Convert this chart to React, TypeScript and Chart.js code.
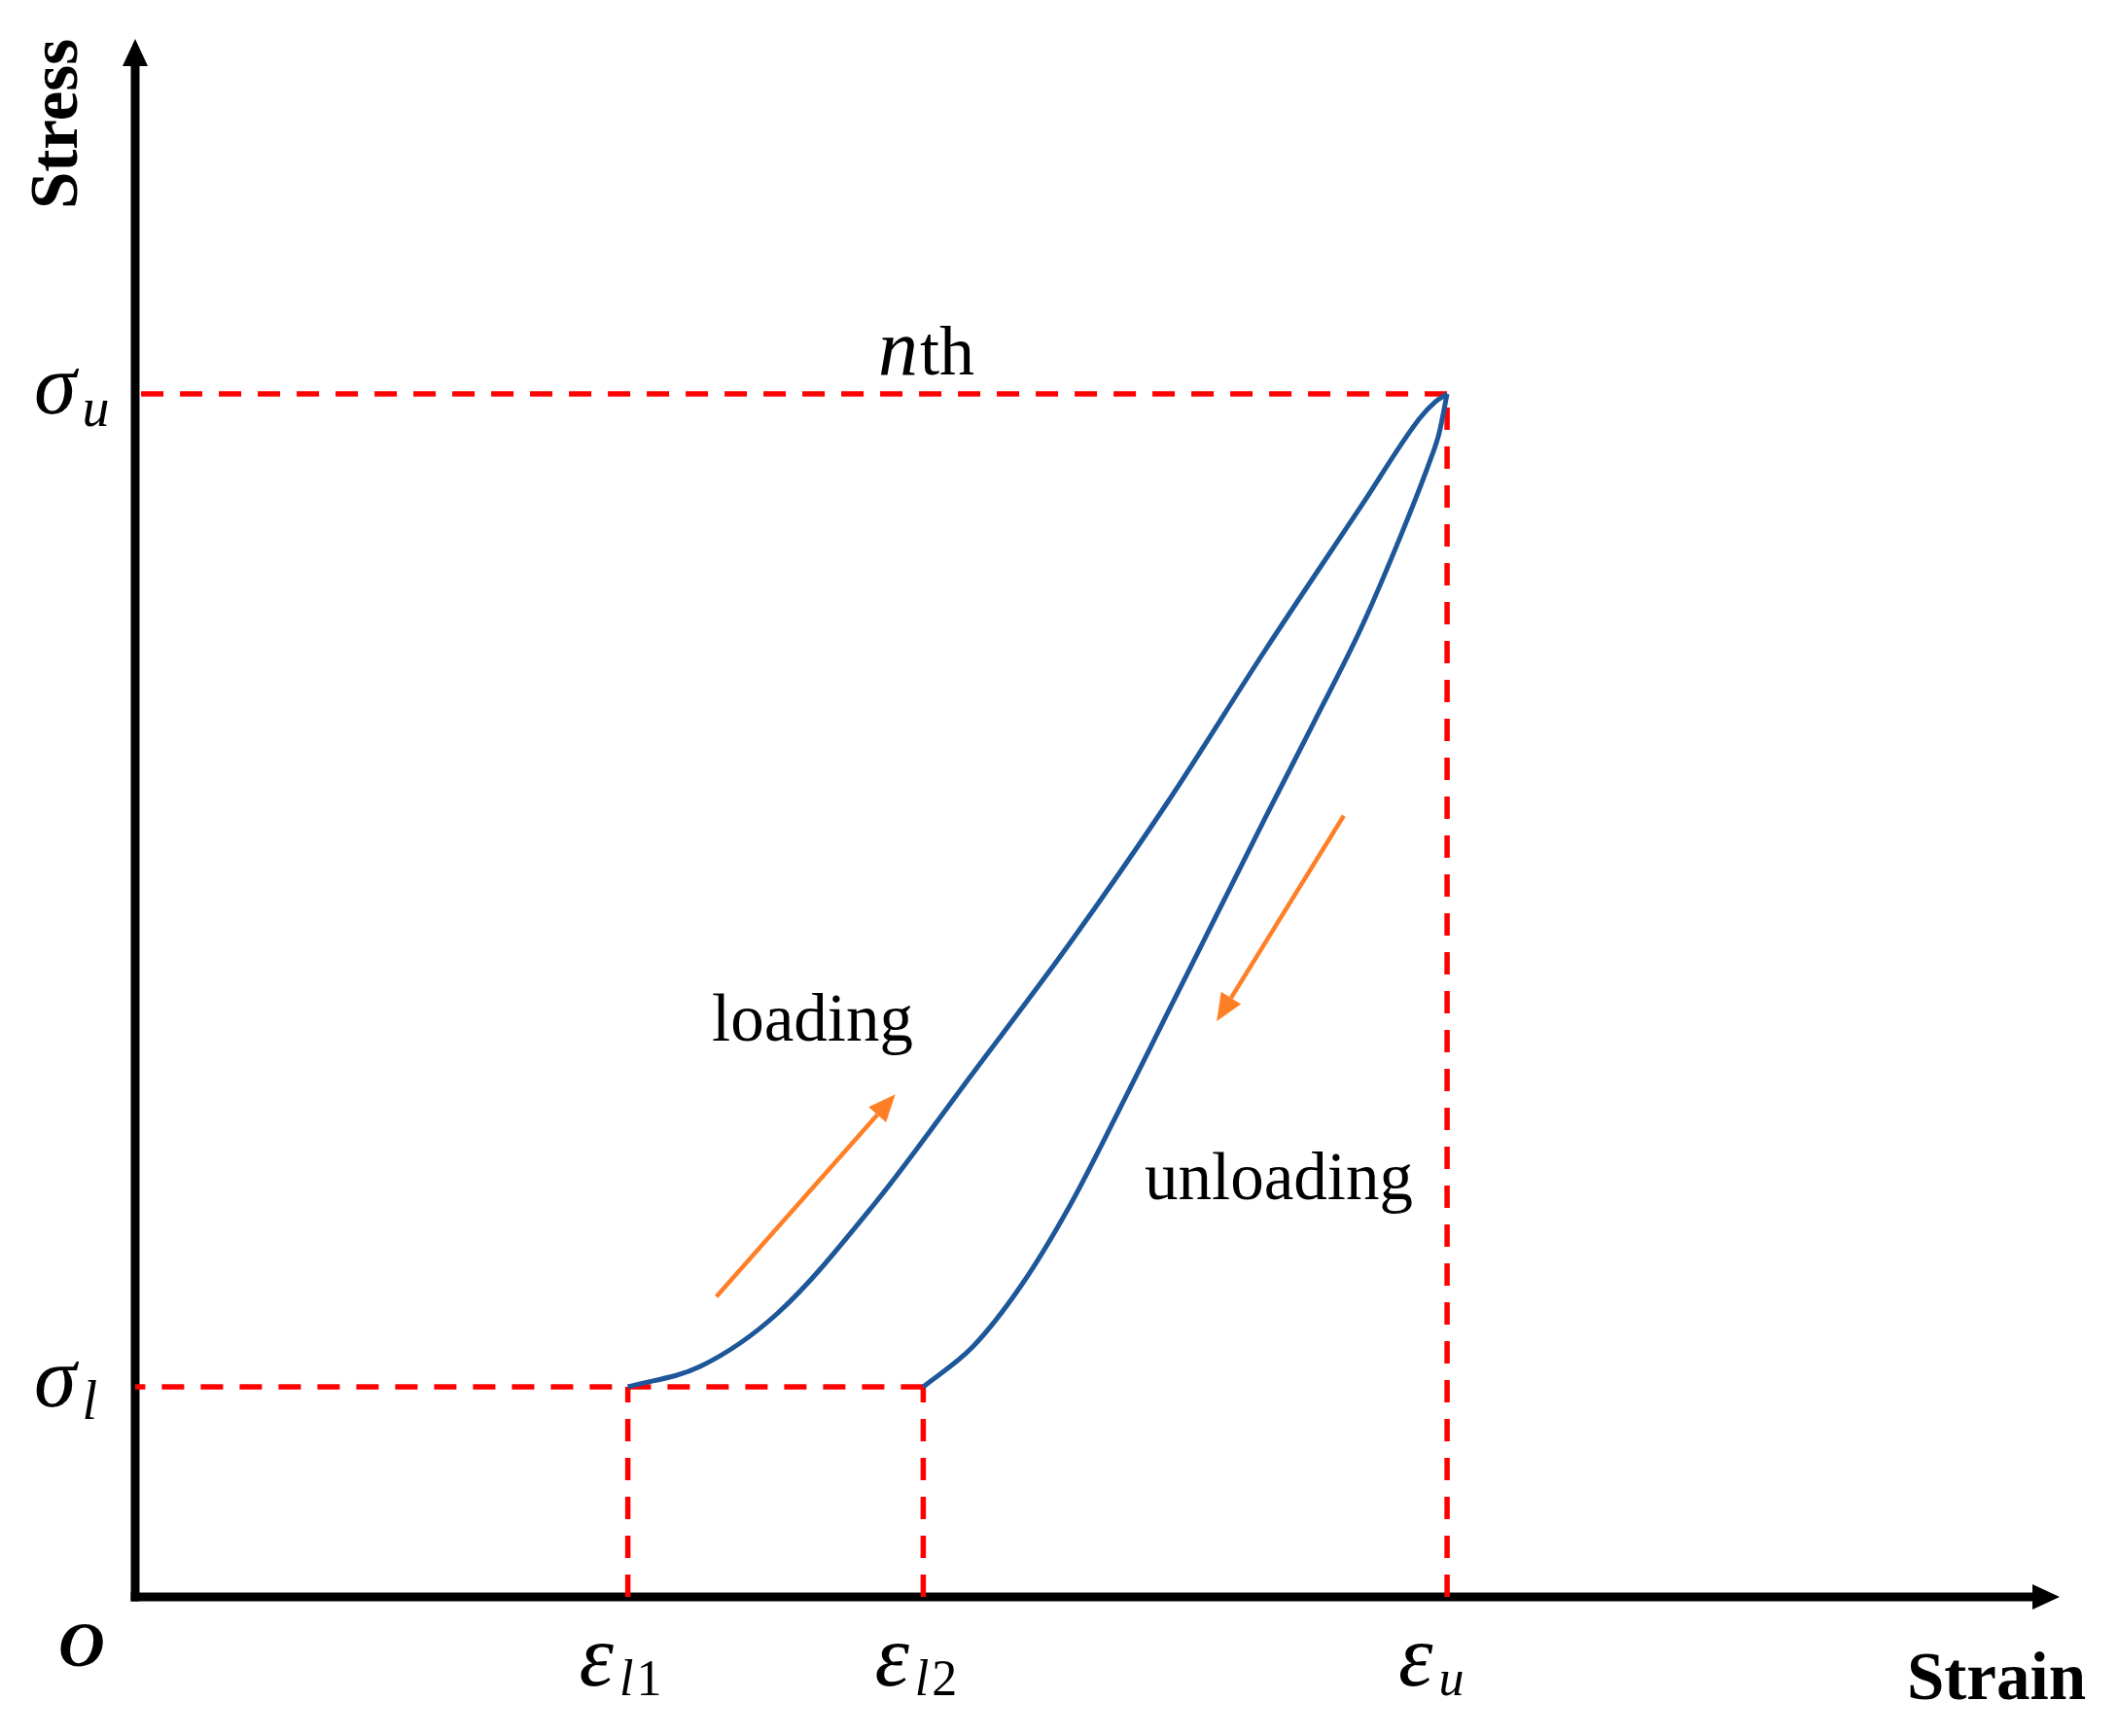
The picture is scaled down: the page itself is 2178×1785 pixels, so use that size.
import React, { useEffect, useRef } from "react";
import { Chart, registerables } from "chart.js";

Chart.register(...registerables);

// ---- values (arbitrary strain / stress units) ----
const EPS_L1 = 25.6;
const EPS_L2 = 40.95;
const EPS_U = 68.17;
const SIG_L = 13.5;
const SIG_U = 77.31;

const loadingX = [25.6, 29.36, 33.4, 38.45, 43.51, 48.56, 53.61, 58.67, 63.72, 66.75, 67.56, 68.17];
const loadingY = [13.5, 14.81, 18.25, 25.31, 33.63, 42.0, 51.0, 60.75, 70.13, 75.75, 76.81, 77.31];

const unloadingX = [40.95, 43.51, 46.03, 48.56, 51.09, 53.61, 56.14, 58.67, 61.19, 63.72, 65.74, 67.26, 67.76, 68.17];
const unloadingY = [13.5, 16.06, 20.0, 25.13, 31.19, 37.44, 43.69, 49.94, 56.06, 62.31, 68.13, 72.94, 74.81, 77.31];

// orange direction arrows: [tail, tip]
const loadArrow = [[30.2, 19.3], [39.5, 32.3]];
const unloadArrow = [[62.8, 50.2], [56.2, 37.0]];

// tick labels
const xTickValues = [EPS_L1, EPS_L2, EPS_U];
const xTickMain = ["ε", "ε", "ε"];
const xTickSub = ["l1", "l2", "u"];
const yTickValues = [SIG_U, SIG_L];
const yTickMain = ["σ", "σ"];
const yTickSub = ["u", "l"];

const xTitle = "Strain";
const yTitle = "Stress";
const originLabel = "O";
const cycleLabel = ["n", "th"];
const loadingLabel = "loading";
const unloadingLabel = "unloading";

const BLUE = "#1d5799";
const RED = "#ff0000";
const ORANGE = "#ff7f27";
const SERIF = '"Liberation Serif", "Times New Roman", serif';

function pts(xs: number[], ys: number[]) {
  return xs.map((x, i) => ({ x, y: ys[i] }));
}

function drawMath(
  ctx: CanvasRenderingContext2D,
  x: number,
  baseline: number,
  main: string,
  sub: string,
  mainSize: number,
  subSize: number,
  subDrop: number,
  subGap: number
) {
  ctx.font = `italic ${mainSize}px ${SERIF}`;
  ctx.textAlign = "left";
  ctx.textBaseline = "alphabetic";
  ctx.fillText(main, x, baseline);
  let cx = x + ctx.measureText(main).width + subGap;
  for (const ch of sub) {
    const italic = /[a-z]/i.test(ch);
    ctx.font = `${italic ? "italic " : ""}${subSize}px ${SERIF}`;
    ctx.fillText(ch, cx, baseline + subDrop);
    cx += ctx.measureText(ch).width + (italic ? 3 : 0);
  }
}

function arrowHead(ctx: CanvasRenderingContext2D, x0: number, y0: number, x1: number, y1: number, len: number, half: number) {
  const a = Math.atan2(y1 - y0, x1 - x0);
  const bx = x1 - len * Math.cos(a);
  const by = y1 - len * Math.sin(a);
  ctx.beginPath();
  ctx.moveTo(x1, y1);
  ctx.lineTo(bx + half * Math.sin(a), by - half * Math.cos(a));
  ctx.lineTo(bx - half * Math.sin(a), by + half * Math.cos(a));
  ctx.closePath();
  ctx.fill();
  return [bx, by];
}

const decorPlugin = {
  id: "decor",
  beforeDatasetsDraw(chart: any) {
    const { ctx, chartArea, scales } = chart;
    const x0 = scales.x.getPixelForValue(0);
    const y0 = scales.y.getPixelForValue(0);
    ctx.save();
    ctx.strokeStyle = "#000";
    ctx.fillStyle = "#000";
    ctx.lineWidth = 9;
    ctx.lineCap = "butt";
    // y axis
    ctx.beginPath();
    ctx.moveTo(x0, y0 + 4.5);
    ctx.lineTo(x0, chartArea.top + 26);
    ctx.stroke();
    arrowHead(ctx, x0, y0, x0, chartArea.top - 2, 28, 13);
    // x axis
    ctx.beginPath();
    ctx.moveTo(x0 - 4.5, y0);
    ctx.lineTo(chartArea.right - 26, y0);
    ctx.stroke();
    arrowHead(ctx, x0, y0, chartArea.right, y0, 28, 13);
    ctx.restore();
  },
  afterDatasetsDraw(chart: any) {
    const { ctx, scales } = chart;
    const xs = scales.x;
    const ys = scales.y;
    const x0 = xs.getPixelForValue(0);
    const y0 = ys.getPixelForValue(0);
    ctx.save();
    // orange arrows
    ctx.strokeStyle = ORANGE;
    ctx.fillStyle = ORANGE;
    ctx.lineWidth = 4.5;
    for (const arr of [loadArrow, unloadArrow]) {
      const tx = xs.getPixelForValue(arr[0][0]);
      const ty = ys.getPixelForValue(arr[0][1]);
      const hx = xs.getPixelForValue(arr[1][0]);
      const hy = ys.getPixelForValue(arr[1][1]);
      const [bx, by] = arrowHead(ctx, tx, ty, hx, hy, 28, 12);
      ctx.beginPath();
      ctx.moveTo(tx, ty);
      ctx.lineTo(bx, by);
      ctx.stroke();
    }

    ctx.fillStyle = "#000";
    // y tick labels
    yTickValues.forEach((v, i) => {
      const py = ys.getPixelForValue(v);
      drawMath(ctx, x0 - 104, py + 20, yTickMain[i], yTickSub[i], 88, 56, 13, 6);
    });
    // x tick labels
    xTickValues.forEach((v, i) => {
      const px = xs.getPixelForValue(v);
      drawMath(ctx, px - 50, y0 + 91, xTickMain[i], xTickSub[i], 90, 52, 10, 6);
    });

    // axis titles
    ctx.font = `bold 69px ${SERIF}`;
    ctx.textAlign = "left";
    ctx.textBaseline = "alphabetic";
    ctx.fillText(xTitle, 1961, 1747);
    ctx.save();
    ctx.translate(79, 40);
    ctx.rotate(-Math.PI / 2);
    ctx.textAlign = "right";
    ctx.fillText(yTitle, 0, 0);
    ctx.restore();

    // origin
    ctx.font = `bold italic 66px ${SERIF}`;
    ctx.textAlign = "left";
    ctx.fillText(originLabel, x0 - 79, y0 + 71);

    // nth label
    const peakY = ys.getPixelForValue(SIG_U);
    ctx.font = `italic 82px ${SERIF}`;
    ctx.fillText(cycleLabel[0], 903, peakY - 20);
    const nW = ctx.measureText(cycleLabel[0]).width;
    ctx.font = `72px ${SERIF}`;
    ctx.fillText(cycleLabel[1], 903 + nW + 2, peakY - 20);

    // loading / unloading
    ctx.font = `69px ${SERIF}`;
    ctx.fillText(loadingLabel, 732, 1070);
    ctx.fillText(unloadingLabel, 1177, 1233);
    ctx.restore();
  },
};

export default function App() {
  const ref = useRef<HTMLCanvasElement | null>(null);

  useEffect(() => {
    if (!ref.current) return;
    const dash = [23, 17];
    const guide = (data: { x: number; y: number }[]) => ({
      data,
      showLine: true,
      borderColor: RED,
      borderWidth: 5.5,
      borderDash: dash,
      pointRadius: 0,
      fill: false,
      clip: false as any,
      order: 2,
    });
    const curve = (label: string, data: { x: number; y: number }[]) => ({
      label,
      data,
      showLine: true,
      borderColor: BLUE,
      borderWidth: 5,
      pointRadius: 0,
      cubicInterpolationMode: "monotone",
      fill: false,
      order: 0,
    });
    const chart = new Chart(ref.current, {
      type: "scatter",
      data: {
        datasets: [
          curve("loading", pts(loadingX, loadingY)),
          curve("unloading", pts(unloadingX, unloadingY)),
          guide([{ x: EPS_U, y: SIG_U }, { x: 0, y: SIG_U }]),
          guide([{ x: EPS_U, y: 0 }, { x: EPS_U, y: SIG_U }]),
          guide([{ x: EPS_L2, y: SIG_L }, { x: 0, y: SIG_L }]),
          guide([{ x: EPS_L1, y: 0 }, { x: EPS_L1, y: SIG_L }]),
          guide([{ x: EPS_L2, y: 0 }, { x: EPS_L2, y: SIG_L }]),
        ] as any,
      },
      options: {
        animation: false,
        responsive: false,
        devicePixelRatio: 1,
        layout: { padding: { left: 139, right: 60, top: 42, bottom: 143 } },
        scales: {
          x: { type: "linear", min: 0, max: 100, display: false },
          y: { type: "linear", min: 0, max: 100, display: false },
        },
        plugins: {
          legend: { display: false },
          tooltip: { enabled: false },
        },
        events: [],
      },
      plugins: [decorPlugin],
    });
    return () => chart.destroy();
  }, []);

  return (
    <div style={{ position: "absolute", left: 0, top: 0, width: 2178, height: 1785, background: "#fff" }}>
      <canvas ref={ref} width={2178} height={1785} style={{ width: 2178, height: 1785, display: "block" }} />
    </div>
  );
}
